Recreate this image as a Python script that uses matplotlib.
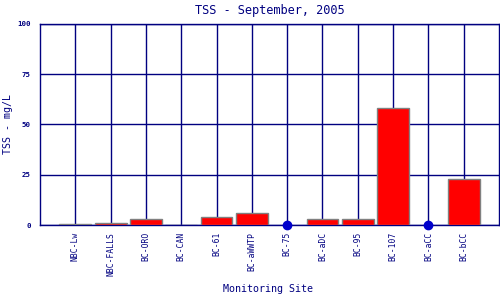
import matplotlib
matplotlib.use("Agg")
import matplotlib.pyplot as plt
import numpy as np

sites = ['NBC-Lw', 'NBC-FALLS', 'BC-ORO', 'BC-CAN', 'BC-61', 'BC-aWWTP',
         'BC-75', 'BC-aDC', 'BC-95', 'BC-107', 'BC-aCC', 'BC-bCC']
tss = [0.5, 1, 3, 0, 4, 6, None, 3, 3, 58, None, 23]  # None = no sample

navy = '#000080'
plt.rcParams['font.family'] = 'DejaVu Sans Mono'

fig = plt.figure(figsize=(5, 3), dpi=100)
ax = fig.add_axes([0.08, 0.25, 0.918, 0.67])

x = np.arange(len(sites))
vals = [v if v is not None else 0 for v in tss]
has = [v is not None for v in tss]
ax.bar(x[has], np.array(vals)[has], width=0.9, color='red', edgecolor='#808080',
       linewidth=1, zorder=3)
missing = [i for i, v in enumerate(tss) if v is None]
ax.plot(missing, [0] * len(missing), 'o', color='#0000cc', markersize=6,
        zorder=4, clip_on=False)

ax.set_xlim(-1, len(sites))
ax.set_ylim(0, 100)
ax.set_yticks([0, 25, 50, 75, 100])
ax.set_xticks(x)
ax.set_xticklabels(sites, rotation=90, fontsize=5.8, color=navy)
ax.set_yticklabels(['0', '25', '50', '75', '100'], fontsize=5.3,
                   fontweight='bold', color=navy)
ax.tick_params(axis='y', length=0, pad=6.5)
ax.tick_params(axis='x', length=0, pad=5)
ax.grid(True, color=navy, linewidth=1)
ax.set_axisbelow(True)
for s in ax.spines.values():
    s.set_color(navy)
    s.set_linewidth(1)

ax.set_title('TSS - September, 2005', fontsize=8.6, color=navy, pad=7)
fig.text(0.016, 0.585, 'TSS - mg/L', fontsize=7.2, color=navy, rotation=90,
         ha='center', va='center')
fig.text(0.536, 0.025, 'Monitoring Site', fontsize=7.2, color=navy, ha='center')

fig.savefig('out.png', dpi=100)
